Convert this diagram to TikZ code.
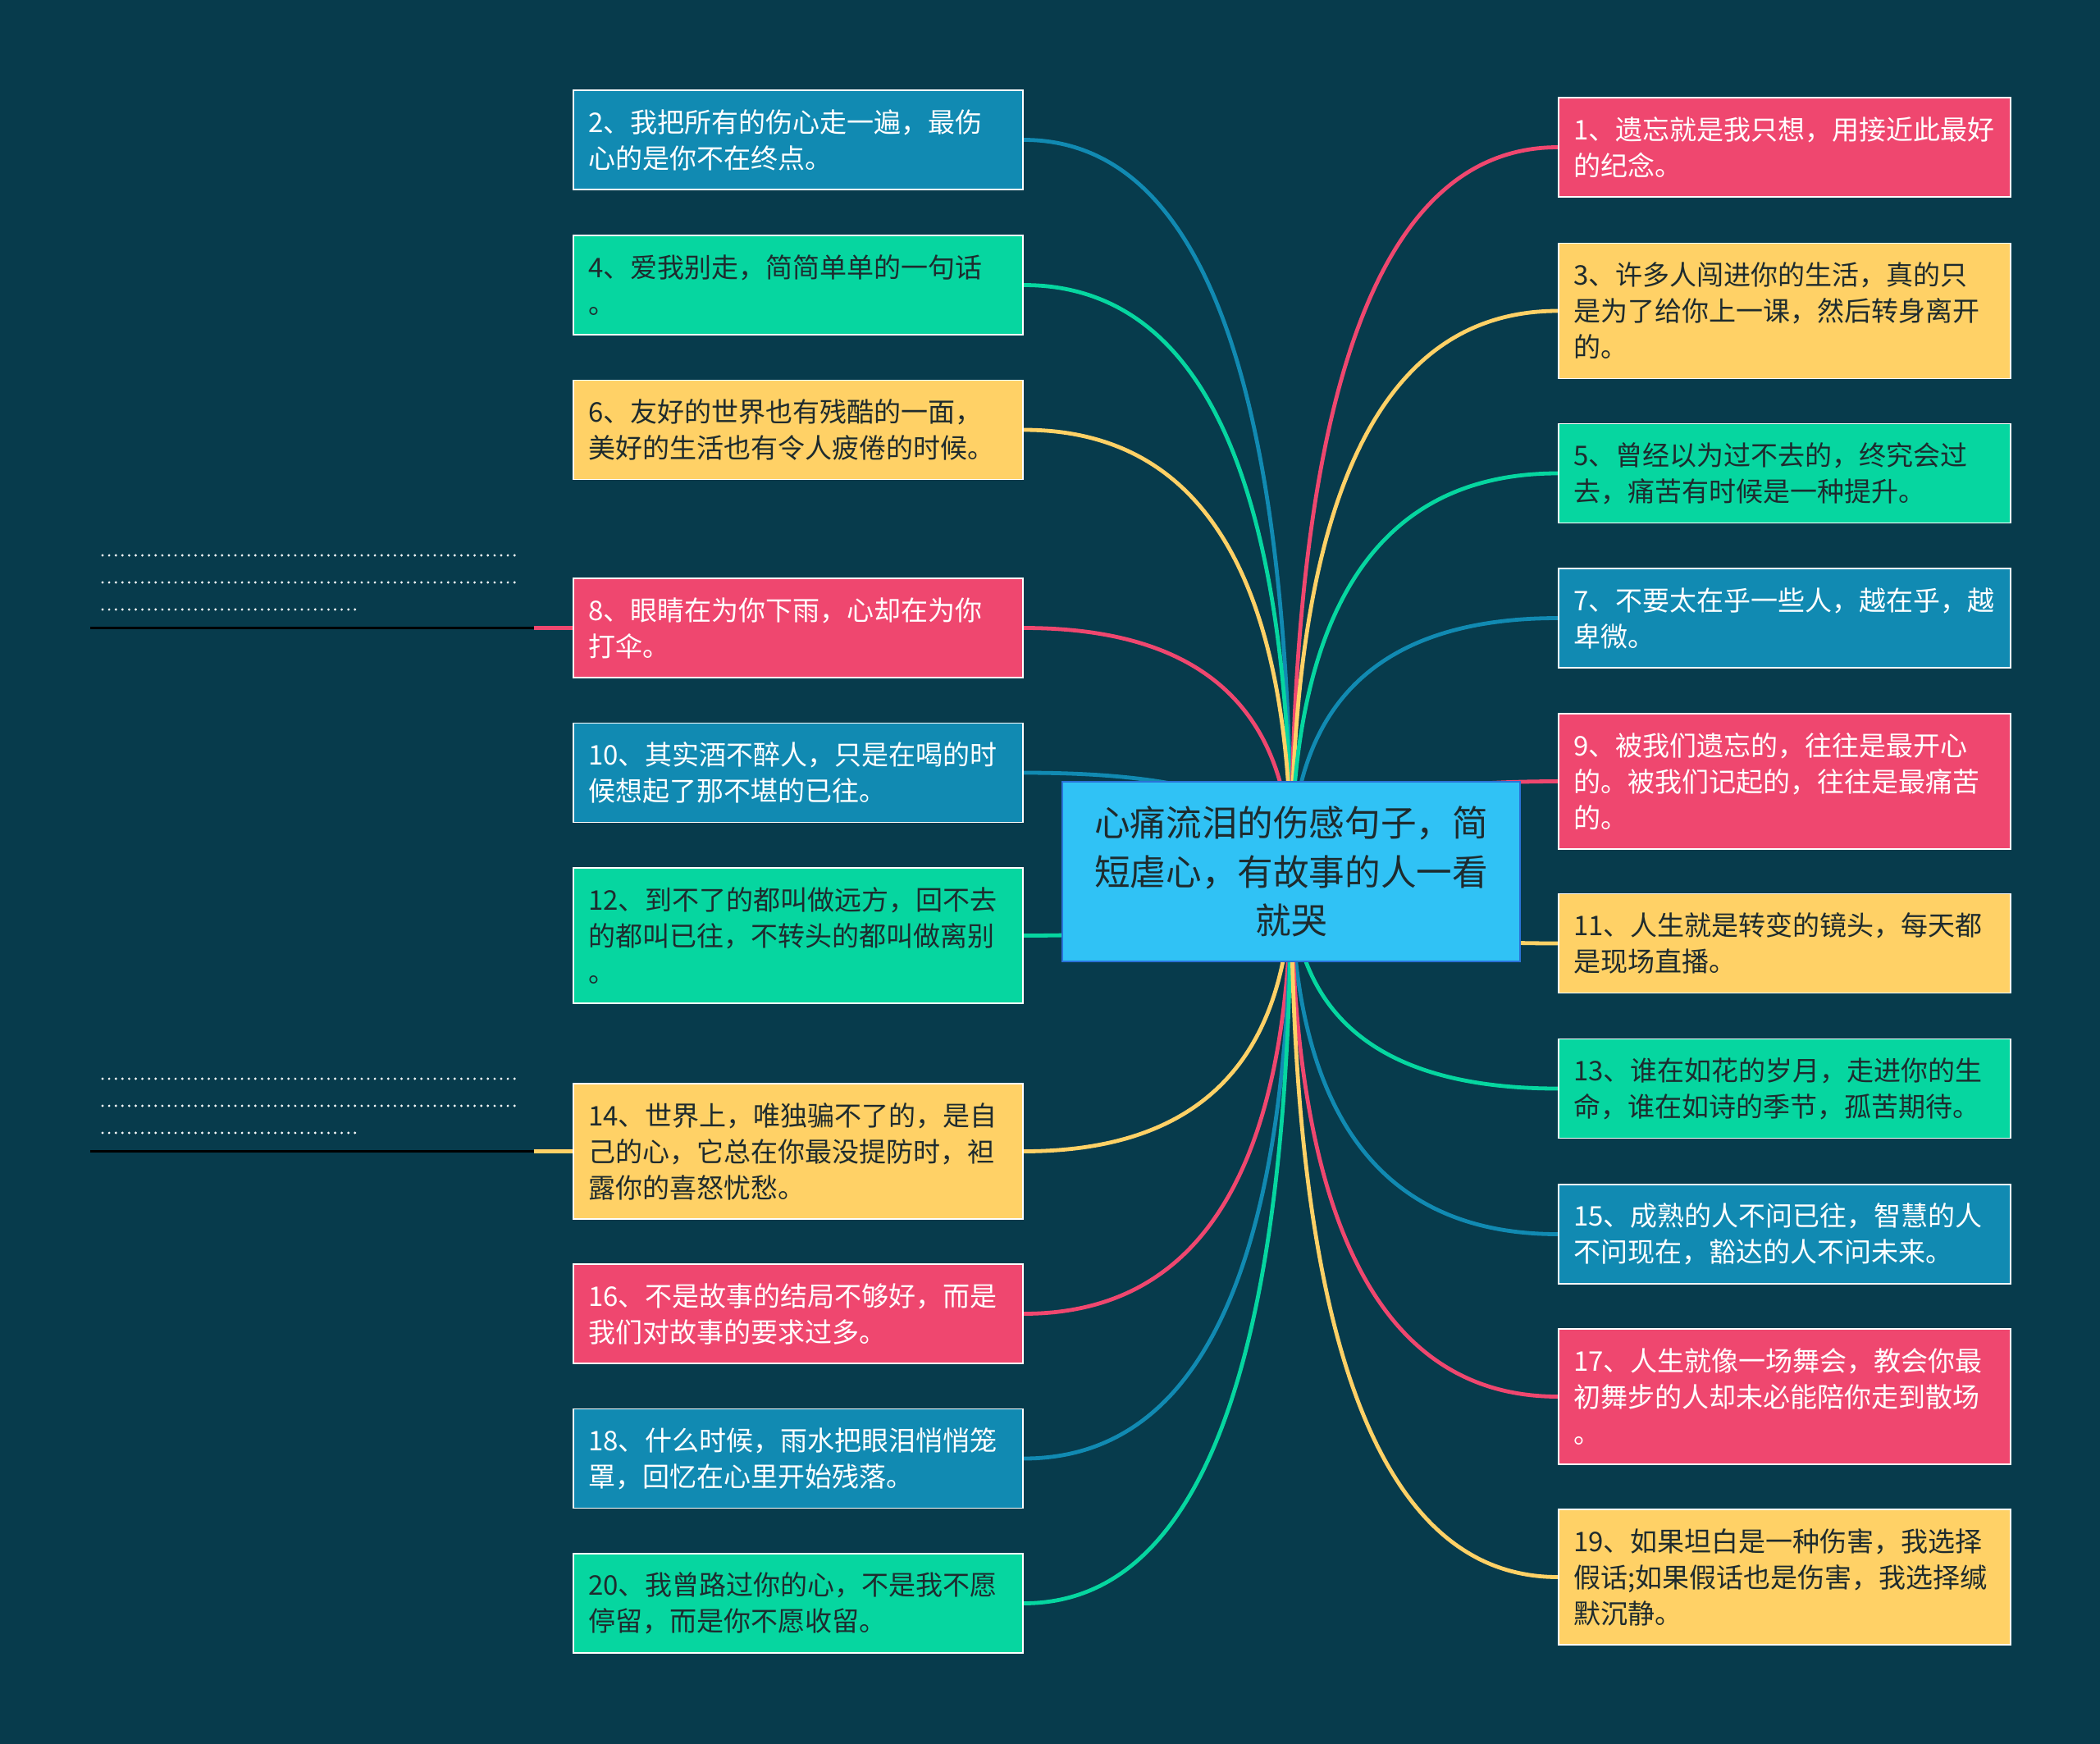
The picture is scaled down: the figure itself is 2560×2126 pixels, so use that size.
\documentclass[tikz,border=0pt]{standalone}
\usepackage{fontspec}
\setmainfont{Noto Sans CJK SC}
\usetikzlibrary{calc}
\definecolor{bgc}{HTML}{073B4C}
\definecolor{cpink}{HTML}{EF476F}
\definecolor{cyel}{HTML}{FFD166}
\definecolor{cgreen}{HTML}{06D6A0}
\definecolor{cblue}{HTML}{118AB2}
\definecolor{cfill}{HTML}{30C2F5}
\definecolor{cborder}{HTML}{2A72D8}
\definecolor{darktext}{HTML}{1E2B2E}
\pgfdeclarelayer{bg}
\pgfdeclarelayer{lines}
\pgfsetlayers{bg,lines,main}
\newcommand\mmconn[2]{\draw[conn,#2] (#1) .. controls ($(#1)!0.667!(#1 -| hub.center)$) and ($(hub.center)!0.667!(#1 -| hub.center)$) .. (hub.center);}
\begin{document}
\begin{tikzpicture}[x=0.5pt,y=-0.5pt,
 box/.style={draw=white, line width=0.9pt, inner xsep=9pt, inner ysep=0pt, align=left, font=\fontsize{16.5pt}{22pt}\selectfont, anchor=center},
 lbox/.style={box, text width=256pt, minimum width=274pt},
 rbox/.style={box, text width=257.5pt, minimum width=275.5pt},
 two/.style={minimum height=60.5pt},
 three/.style={minimum height=82.5pt},
 pinkbox/.style={fill=cpink,text=white},
 bluebox/.style={fill=cblue,text=white},
 greenbox/.style={fill=cgreen,text=darktext},
 yelbox/.style={fill=cyel,text=darktext},
 conn/.style={line width=2.4pt},
 hubbox/.style={draw=cborder, line width=1pt, fill=cfill, text=darktext, align=center, minimum width=279pt, minimum height=109.5pt, inner sep=0pt, font=\fontsize{21.8pt}{29.8pt}\selectfont},
 dots/.style={white, line width=1.6pt, line cap=round, dash pattern=on 0pt off 4.05pt},
 underl/.style={black, line width=1.7pt}
]
\useasboundingbox (0,0) rectangle (2560,2126);
\begin{pgfonlayer}{bg}
\fill[bgc] (0,0) rectangle (2560,2126);
\end{pgfonlayer}

% central node
\node[hubbox] (hub) at (1574,1062.5) {心痛流泪的伤感句子，简\\短虐心，有故事的人一看\\就哭};

% left nodes
\node[lbox,two,bluebox]    (n2)  at (973,170.5)  {2、我把所有的伤心走一遍，最伤\\心的是你不在终点。};
\node[lbox,two,greenbox]   (n4)  at (973,347.5)  {4、爱我别走，简简单单的一句话\\。};
\node[lbox,two,yelbox]     (n6)  at (973,524)    {6、友好的世界也有残酷的一面，\\美好的生活也有令人疲倦的时候。};
\node[lbox,two,pinkbox]    (n8)  at (973,765.5)  {8、眼睛在为你下雨，心却在为你\\打伞。};
\node[lbox,two,bluebox]    (n10) at (973,942)    {10、其实酒不醉人，只是在喝的时\\候想起了那不堪的已往。};
\node[lbox,three,greenbox] (n12) at (973,1140.5) {12、到不了的都叫做远方，回不去\\的都叫已往，不转头的都叫做离别\\。};
\node[lbox,three,yelbox]   (n14) at (973,1403.5) {14、世界上，唯独骗不了的，是自\\己的心，它总在你最没提防时，袒\\露你的喜怒忧愁。};
\node[lbox,two,pinkbox]    (n16) at (973,1601.5) {16、不是故事的结局不够好，而是\\我们对故事的要求过多。};
\node[lbox,two,bluebox]    (n18) at (973,1778)   {18、什么时候，雨水把眼泪悄悄笼\\罩，回忆在心里开始残落。};
\node[lbox,two,greenbox]   (n20) at (973,1954.5) {20、我曾路过你的心，不是我不愿\\停留，而是你不愿收留。};

% right nodes
\node[rbox,two,pinkbox]    (n1)  at (2175.5,179.5)  {1、遗忘就是我只想，用接近此最好\\的纪念。};
\node[rbox,three,yelbox]   (n3)  at (2175.5,379)    {3、许多人闯进你的生活，真的只\\是为了给你上一课，然后转身离开\\的。};
\node[rbox,two,greenbox]   (n5)  at (2175.5,577)    {5、曾经以为过不去的，终究会过\\去，痛苦有时候是一种提升。};
\node[rbox,two,bluebox]    (n7)  at (2175.5,753.5)  {7、不要太在乎一些人，越在乎，越\\卑微。};
\node[rbox,three,pinkbox]  (n9)  at (2175.5,952.5)  {9、被我们遗忘的，往往是最开心\\的。被我们记起的，往往是最痛苦\\的。};
\node[rbox,two,yelbox]     (n11) at (2175.5,1150)   {11、人生就是转变的镜头，每天都\\是现场直播。};
\node[rbox,two,greenbox]   (n13) at (2175.5,1327)   {13、谁在如花的岁月，走进你的生\\命，谁在如诗的季节，孤苦期待。};
\node[rbox,two,bluebox]    (n15) at (2175.5,1504.5) {15、成熟的人不问已往，智慧的人\\不问现在，豁达的人不问未来。};
\node[rbox,three,pinkbox]  (n17) at (2175.5,1702.5) {17、人生就像一场舞会，教会你最\\初舞步的人却未必能陪你走到散场\\。};
\node[rbox,three,yelbox]   (n19) at (2175.5,1922.5) {19、如果坦白是一种伤害，我选择\\假话;如果假话也是伤害，我选择缄\\默沉静。};

% note placeholders
\coordinate (k8) at (110,765.5);
\coordinate (j8) at (651,765.5);
\coordinate (k14) at (110,1403.5);
\coordinate (j14) at (651,1403.5);
\draw[dots] (125,677) -- (632,677);
\draw[dots] (125,710) -- (632,710);
\draw[dots] (125,743) -- (434,743);
\draw[dots] (125,1315) -- (632,1315);
\draw[dots] (125,1348) -- (632,1348);
\draw[dots] (125,1381) -- (434,1381);

\begin{pgfonlayer}{lines}
\mmconn{n2.east}{cblue}
\mmconn{n4.east}{cgreen}
\mmconn{n6.east}{cyel}
\mmconn{n8.east}{cpink}
\mmconn{n10.east}{cblue}
\mmconn{n12.east}{cgreen}
\mmconn{n14.east}{cyel}
\mmconn{n16.east}{cpink}
\mmconn{n18.east}{cblue}
\mmconn{n20.east}{cgreen}
\mmconn{n1.west}{cpink}
\mmconn{n3.west}{cyel}
\mmconn{n5.west}{cgreen}
\mmconn{n7.west}{cblue}
\mmconn{n9.west}{cpink}
\mmconn{n11.west}{cyel}
\mmconn{n13.west}{cgreen}
\mmconn{n15.west}{cblue}
\mmconn{n17.west}{cpink}
\mmconn{n19.west}{cyel}
\draw[underl] (k8) -- (j8);
\draw[conn,cpink] (j8) -- (n8.west);
\draw[underl] (k14) -- (j14);
\draw[conn,cyel] (j14) -- (n14.west);
\end{pgfonlayer}
\end{tikzpicture}
\end{document}
